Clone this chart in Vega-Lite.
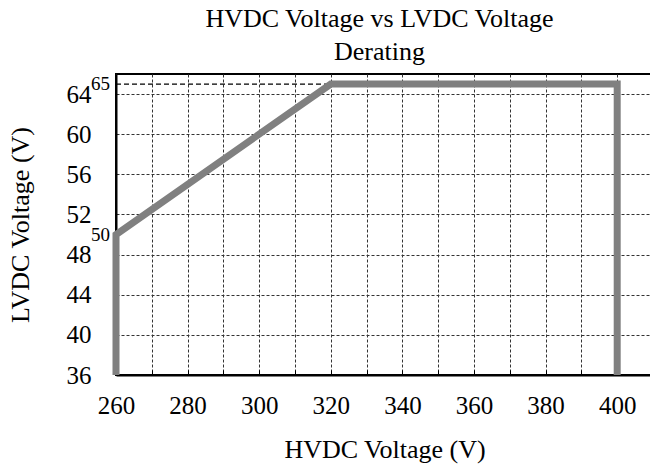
{
  "$schema": "https://vega.github.io/schema/vega-lite/v6.json",
  "width": 537,
  "height": 301,
  "autosize": {"type": "none"},
  "padding": {"left": 116, "top": 74, "right": 0, "bottom": 93},
  "background": "white",
  "title": {
    "text": ["HVDC Voltage vs LVDC Voltage", "Derating"],
    "font": "Liberation Serif",
    "fontSize": 26,
    "fontWeight": "normal",
    "lineHeight": 33,
    "offset": 5,
    "anchor": "middle",
    "dx": -5,
    "color": "black"
  },
  "config": {
    "view": {"stroke": "black", "strokeWidth": 2},
    "axis": {
      "labelFont": "Liberation Serif",
      "titleFont": "Liberation Serif",
      "labelColor": "black",
      "titleColor": "black",
      "labelFontSize": 25,
      "titleFontSize": 26,
      "titleFontWeight": "normal",
      "domainColor": "black",
      "domainWidth": 2,
      "gridColor": "#333333",
      "gridDash": [3, 2],
      "gridWidth": 1,
      "gridOpacity": 1,
      "labelFlush": false,
      "labelOverlap": false
    }
  },
  "datasets": {
    "curve": [
      {"i": 1, "hv": 260, "lv": 36},
      {"i": 2, "hv": 260, "lv": 50},
      {"i": 3, "hv": 320, "lv": 65},
      {"i": 4, "hv": 400, "lv": 65},
      {"i": 5, "hv": 400, "lv": 36}
    ],
    "ref": [{"hv": 260, "hv2": 400, "lv": 65}],
    "notes": [
      {"hv": 260, "lv": 65, "t": "65"},
      {"hv": 260, "lv": 50, "t": "50"}
    ]
  },
  "layer": [
    {
      "data": {"name": "ref"},
      "mark": {"type": "rule", "color": "black", "strokeWidth": 1.3, "strokeDash": [5, 3]},
      "encoding": {
        "x": {"field": "hv", "type": "quantitative"},
        "x2": {"field": "hv2"},
        "y": {"field": "lv", "type": "quantitative"}
      }
    },
    {
      "data": {"name": "curve"},
      "mark": {"type": "line", "color": "#808080", "strokeWidth": 7, "strokeJoin": "miter", "strokeCap": "butt", "clip": false},
      "encoding": {
        "x": {
          "field": "hv",
          "type": "quantitative",
          "scale": {"domain": [260, 410], "nice": false, "zero": false},
          "axis": {
            "title": "HVDC Voltage (V)",
            "values": [260, 270, 280, 290, 300, 310, 320, 330, 340, 350, 360, 370, 380, 390, 400, 410],
            "tickCount": 30,
            "labelExpr": "datum.value % 20 == 0 && datum.value <= 400 ? datum.label : ''",
            "grid": true,
            "ticks": true,
            "tickSize": -5,
            "tickColor": "black",
            "tickWidth": 1,
            "labelPadding": 23,
            "titlePadding": 18
          }
        },
        "y": {
          "field": "lv",
          "type": "quantitative",
          "scale": {"domain": [36, 66], "nice": false, "zero": false},
          "axis": {
            "title": "LVDC Voltage (V)",
            "values": [36, 40, 44, 48, 52, 56, 60, 64],
            "tickCount": 20,
            "grid": true,
            "ticks": false,
            "labelPadding": 25,
            "titlePadding": 33
          }
        },
        "order": {"field": "i", "type": "quantitative"}
      }
    },
    {
      "data": {"name": "notes"},
      "mark": {"type": "text", "align": "right", "baseline": "middle", "dx": -6, "font": "Liberation Serif", "fontSize": 19, "color": "black"},
      "encoding": {
        "x": {"field": "hv", "type": "quantitative"},
        "y": {"field": "lv", "type": "quantitative"},
        "text": {"field": "t"}
      }
    }
  ]
}
